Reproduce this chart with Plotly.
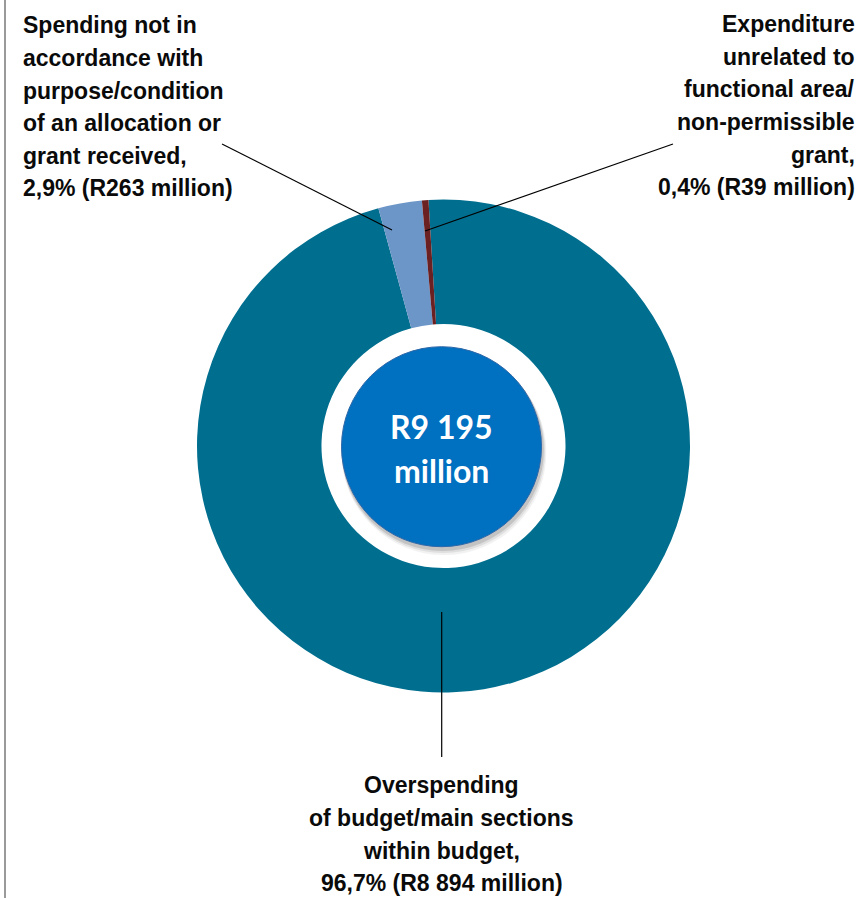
import plotly.graph_objects as go

# ---- data ----
categories = [
    "Overspending of budget/main sections within budget",
    "Spending not in accordance with purpose/condition of an allocation or grant received",
    "Expenditure unrelated to functional area/non-permissible grant",
]
values_rm = [8894, 263, 39]          # R million
shares_pct = ["96,7%", "2,9%", "0,4%"]
total_label = ["R9 195", "million"]

label_lines = [
    ["Overspending", "of budget/main sections", "within budget,", "96,7% (R8 894 million)"],
    ["Spending not in", "accordance with", "purpose/condition", "of an allocation or", "grant received,", "2,9% (R263 million)"],
    ["Expenditure", "unrelated to", "functional area/", "non-permissible", "grant,", "0,4% (R39 million)"],
]
colors = ["#006F8F", "#6C96C8", "#6B2022"]

# ---- layout helpers ----
W, H = 865, 898
def px(x):
    return x / W
def py(y):
    return 1 - y / H

cx, cy, R = 443.5, 446.0, 246.5
hole = 0.495

fig = go.Figure()
fig.add_trace(go.Pie(
    labels=categories, values=values_rm, sort=False, direction="clockwise",
    rotation=-3.5, hole=hole,
    marker=dict(colors=colors, line=dict(width=0)),
    textinfo="none", hoverinfo="label+value+percent", showlegend=False,
    domain=dict(x=[px(cx - R), px(cx + R)], y=[py(cy + R), py(cy - R)]),
))

shapes = []
# left frame line
shapes.append(dict(type="line", xref="paper", yref="paper", x0=px(5), x1=px(5), y0=0, y1=1,
                   line=dict(color="#9a9a9a", width=2), layer="above"))
# centre circle shadow
for d, op in [(6, 0.05), (4.5, 0.08), (3, 0.12)]:
    r = 100 + d * 0.4
    shapes.append(dict(type="circle", xref="paper", yref="paper",
                       x0=px(cx - 2 - r + d * 0.4), x1=px(cx - 2 + r + d * 0.4),
                       y0=py(cy + 0.7 + r + d), y1=py(cy + 0.7 - r + d),
                       fillcolor=f"rgba(0,0,0,{op})", line=dict(width=0), layer="above"))
shapes.append(dict(type="circle", xref="paper", yref="paper",
                   x0=px(cx - 2 - 100), x1=px(cx - 2 + 100), y0=py(cy + 0.7 + 100), y1=py(cy + 0.7 - 100),
                   fillcolor="#0070C0", line=dict(color="#2E67A8", width=1), layer="above"))
# leader lines
lc = dict(color="#000000", width=1.2)
shapes.append(dict(type="line", xref="paper", yref="paper", x0=px(222), y0=py(144), x1=px(392), y1=py(230), line=lc, layer="above"))
shapes.append(dict(type="line", xref="paper", yref="paper", x0=px(425), y0=py(231), x1=px(673), y1=py(144), line=lc, layer="above"))
shapes.append(dict(type="line", xref="paper", yref="paper", x0=px(441.7), y0=py(612), x1=px(441.7), y1=py(757), line=lc, layer="above"))

annotations = []
lab_font = dict(family="Liberation Sans, Arial, sans-serif",
                size=23, color="#0a0a0a", weight="bold")
step = 32.6

def add_lines(lines, x, base0, xanchor):
    for i, t in enumerate(lines):
        b = base0 + i * step
        annotations.append(dict(text=t, x=px(x), y=py(b - 0.34 * lab_font["size"]), xref="paper", yref="paper",
                                xanchor=xanchor, yanchor="middle", showarrow=False, font=lab_font))

add_lines(label_lines[1], 21, 33.3, "left")
add_lines(label_lines[2], 857, 32.0, "right")
add_lines(label_lines[0], 442, 793.3, "center")

cfont = dict(family="Lato, Open Sans, sans-serif", size=32, color="#FFFFFF", weight="bold")
for t, b in zip(total_label, [438, 481.7]):
    annotations.append(dict(text=t, x=px(441.5), y=py(b - 0.36 * cfont["size"]), xref="paper", yref="paper",
                            xanchor="center", yanchor="middle", showarrow=False, font=cfont))

fig.update_layout(width=W, height=H, margin=dict(l=0, r=0, t=0, b=0),
                  paper_bgcolor="white", plot_bgcolor="white",
                  shapes=shapes, annotations=annotations)
fig.write_html("out.html", config={"displayModeBar": False},
               post_script="document.body.style.margin='0';")
